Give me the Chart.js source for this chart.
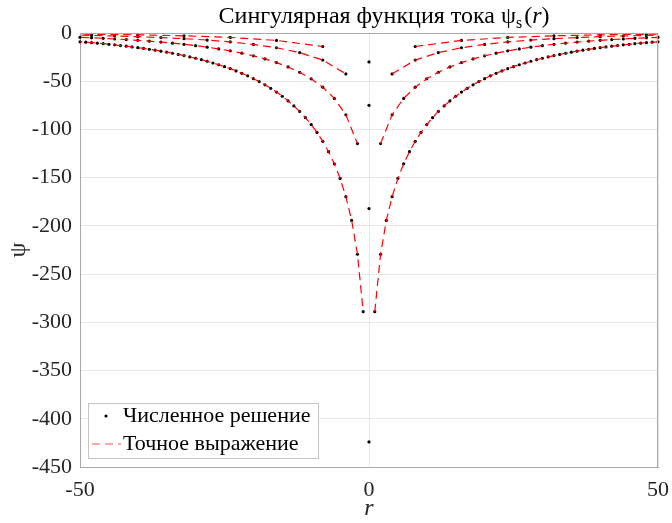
<!DOCTYPE html>
<html><head><meta charset="utf-8">
<script src="https://cdn.jsdelivr.net/npm/chart.js@4.4.1/dist/chart.umd.min.js"></script>
<style>html,body{margin:0;padding:0;background:#fff}#wrap{width:672px;height:523px;position:relative}</style>
</head><body><div id="wrap"><canvas id="c" width="672" height="523"></canvas></div>
<script>
// ---------- data ----------
// grid h = 1
const rH1 = [-52,-51,-50,-49,-48,-47,-46,-45,-44,-43,-42,-41,-40,-39,-38,-37,-36,-35,-34,-33,-32,-31,-30,-29,-28,-27,-26,-25,-24,-23,-22,-21,-20,-19,-18,-17,-16,-15,-14,-13,-12,-11,-10,-9,-8,-7,-6,-5,-4,-3,-2,-1,
  1,2,3,4,5,6,7,8,9,10,11,12,13,14,15,16,17,18,19,20,21,22,23,24,25,26,27,28,29,30,31,32,33,34,35,36,37,38,39,40,41,42,43,44,45,46,47,48,49,50,51,52];
const psiH1 = [-8.2,-8.6,-9.1,-9.5,-10.0,-10.5,-11.1,-11.7,-12.3,-13.0,-13.7,-14.4,-15.2,-16.0,-16.9,-17.8,-18.8,-19.9,-21.0,-22.2,-23.4,-24.8,-26.2,-27.7,-29.3,-31.1,-32.9,-34.9,-37.0,-39.3,-41.8,-44.4,-47.4,-50.4,-53.7,-57.4,-61.3,-65.6,-70.4,-75.6,-81.3,-87.8,-94.9,-103.1,-112.3,-123.1,-135.6,-150.8,-169.7,-194.3,-229.4,-289.0,
  -289.0,-229.4,-194.3,-169.7,-150.8,-135.6,-123.1,-112.3,-103.1,-94.9,-87.8,-81.3,-75.6,-70.4,-65.6,-61.3,-57.4,-53.7,-50.4,-47.4,-44.4,-41.8,-39.3,-37.0,-34.9,-32.9,-31.1,-29.3,-27.7,-26.2,-24.8,-23.4,-22.2,-21.0,-19.9,-18.8,-17.8,-16.9,-16.0,-15.2,-14.4,-13.7,-13.0,-12.3,-11.7,-11.1,-10.5,-10.0,-9.5,-9.1,-8.6,-8.2];
// grid h = 2
const rH2 = [-52,-50,-48,-46,-44,-42,-40,-38,-36,-34,-32,-30,-28,-26,-24,-22,-20,-18,-16,-14,-12,-10,-8,-6,-4,-2,
  2,4,6,8,10,12,14,16,18,20,22,24,26,28,30,32,34,36,38,40,42,44,46,48,50,52];
const psiH2 = [-4.1,-4.5,-5.0,-5.5,-6.2,-6.8,-7.6,-8.5,-9.4,-10.5,-11.7,-13.1,-14.7,-16.5,-18.5,-20.9,-23.7,-26.9,-30.7,-35.2,-40.7,-47.5,-56.2,-67.8,-84.8,-114.7,
  -114.7,-84.8,-67.8,-56.2,-47.5,-40.7,-35.2,-30.7,-26.9,-23.7,-20.9,-18.5,-16.5,-14.7,-13.1,-11.7,-10.5,-9.4,-8.5,-7.6,-6.8,-6.2,-5.5,-5.0,-4.5,-4.1];
// grid h = 4
const rH4 = [-52,-48,-44,-40,-36,-32,-28,-24,-20,-16,-12,-8,-4,4,8,12,16,20,24,28,32,36,40,44,48,52];
const psiH4 = [-2.0,-2.5,-3.1,-3.8,-4.7,-5.9,-7.3,-9.3,-11.8,-15.3,-20.3,-28.1,-42.4,
  -42.4,-28.1,-20.3,-15.3,-11.8,-9.3,-7.3,-5.9,-4.7,-3.8,-3.1,-2.5,-2.0];
// grid h = 8
const rH8 = [-56,-48,-40,-32,-24,-16,-8,8,16,24,32,40,48,56];
const psiH8 = [-0.8,-1.3,-1.9,-2.9,-4.6,-7.7,-14.0,-14.0,-7.7,-4.6,-2.9,-1.9,-1.3,-0.8];
// numerical values at r = 0 for h = 1, 2, 4, 8
const rCenter = [0, 0, 0, 0];
const psiCenter = [-424, -182, -75, -30];

const xTicks = [-50, 0, 50];
const yTicks = [0, -50, -100, -150, -200, -250, -300, -350, -400, -450];
const legendLabels = ['Численное решение', 'Точное выражение'];
const titleMain = 'Сингулярная функция тока ψ';
const titleSub = 's';
const xLabel = 'r';
const yLabel = 'ψ';

// ---------- build datasets ----------
const grids = [[rH1, psiH1], [rH2, psiH2], [rH4, psiH4], [rH8, psiH8]];
function exactLine(rs, ps) {
  const out = [];
  for (let i = 0; i < rs.length; i++) {
    if (i > 0 && rs[i - 1] < 0 && rs[i] > 0) out.push({x: 0, y: null});
    out.push({x: rs[i], y: ps[i]});
  }
  return out;
}
const numPts = [];
grids.forEach(([rs, ps]) => rs.forEach((r, i) => { if (Math.abs(r) <= 50) numPts.push({x: r, y: ps[i]}); }));
rCenter.forEach((r, i) => numPts.push({x: r, y: psiCenter[i]}));

const SERIF = '"Liberation Serif", "DejaVu Serif", serif';
const datasets = [{
  label: legendLabels[0], type: 'scatter', data: numPts, showLine: false,
  pointRadius: 1.6, pointBackgroundColor: '#000', pointBorderWidth: 0, borderColor: '#000',
  order: 2, clip: 4
}];
grids.forEach(([rs, ps], k) => datasets.push({
  label: k === 0 ? legendLabels[1] : '', type: 'line', data: exactLine(rs, ps),
  borderColor: '#ff0000', borderWidth: 1.2, borderDash: [8, 5], pointRadius: 0,
  spanGaps: false, tension: 0, order: 1, clip: 0, fill: false
}));

const overlay = {
  id: 'overlay',
  afterDraw(chart) {
    const ctx = chart.ctx, a = chart.chartArea;
    ctx.save();
    // box (top/right)
    ctx.strokeStyle = '#a8a8a8'; ctx.lineWidth = 1;
    ctx.beginPath();
    ctx.moveTo(a.left, a.top + 0.5); ctx.lineTo(a.right, a.top + 0.5);
    ctx.moveTo(a.right - 0.5, a.top); ctx.lineTo(a.right - 0.5, a.bottom);
    ctx.stroke();
    // legend
    const lx = 88, ly = 403, lw = 230, lh = 55;
    ctx.fillStyle = '#fff'; ctx.fillRect(lx, ly, lw, lh);
    ctx.strokeStyle = '#c4c4c4'; ctx.strokeRect(lx + 0.5, ly + 0.5, lw, lh);
    ctx.fillStyle = '#000';
    ctx.beginPath(); ctx.arc(106, 416, 1.6, 0, Math.PI * 2); ctx.fill();
    ctx.strokeStyle = '#ff5050'; ctx.lineWidth = 1.2; ctx.setLineDash([8, 5]);
    ctx.beginPath(); ctx.moveTo(92, 444); ctx.lineTo(121, 444); ctx.stroke();
    ctx.setLineDash([]);
    ctx.font = '22px ' + SERIF; ctx.fillStyle = '#000'; ctx.textBaseline = 'middle'; ctx.textAlign = 'left';
    ctx.fillText(legendLabels[0], 123, 416);
    ctx.fillText(legendLabels[1], 123, 444);
    // title
    const fMain = '24px ' + SERIF, fSub = '16px ' + SERIF, fIt = 'italic 24px ' + SERIF;
    ctx.textBaseline = 'alphabetic';
    ctx.font = fMain; const w1 = ctx.measureText(titleMain).width; const wp = ctx.measureText('(').width, wq = ctx.measureText(')').width;
    ctx.font = fSub; const w2 = ctx.measureText(titleSub).width;
    ctx.font = fIt; const w3 = ctx.measureText(xLabel).width;
    const total = w1 + w2 + 2 + wp + w3 + wq;
    let x = 384 - total / 2; const base = 23;
    ctx.fillStyle = '#000';
    ctx.font = fMain; ctx.fillText(titleMain, x, base); x += w1;
    ctx.font = fSub; ctx.fillText(titleSub, x, base + 5); x += w2 + 2;
    ctx.font = fMain; ctx.fillText('(', x, base); x += wp;
    ctx.font = fIt; ctx.fillText(xLabel, x, base); x += w3;
    ctx.font = fMain; ctx.fillText(')', x, base);
    // axis labels
    ctx.fillStyle = '#262626';
    ctx.font = 'italic 24px ' + SERIF; ctx.textAlign = 'center'; ctx.textBaseline = 'middle';
    ctx.fillText(xLabel, (a.left + a.right) / 2, 509);
    ctx.save(); ctx.translate(19, (a.top + a.bottom) / 2); ctx.rotate(-Math.PI / 2);
    ctx.font = '24px ' + SERIF; ctx.fillText(yLabel, 0, 0); ctx.restore();
    ctx.restore();
  }
};

new Chart(document.getElementById('c'), {
  type: 'scatter',
  data: {datasets},
  options: {
    responsive: false, animation: false, devicePixelRatio: 1,
    layout: {padding: {top: 33, right: 14, left: 0, bottom: 0}},
    plugins: {legend: {display: false}, title: {display: false}, tooltip: {enabled: false}},
    scales: {
      x: {
        type: 'linear', min: -50, max: 50,
        afterBuildTicks: s => { s.ticks = xTicks.map(v => ({value: v})); },
        afterFit: s => { s.height = 56; s.paddingLeft = 0; s.paddingRight = 0; },
        grid: {color: '#e6e6e6', drawTicks: false},
        border: {display: true, color: '#a8a8a8'},
        ticks: {font: {family: SERIF, size: 22}, color: '#262626', padding: 10, maxRotation: 0}
      },
      y: {
        type: 'linear', min: -450, max: 0,
        afterBuildTicks: s => { s.ticks = yTicks.map(v => ({value: v})); },
        afterFit: s => { s.width = 80; s.paddingTop = 0; s.paddingBottom = 0; },
        grid: {color: '#e6e6e6', drawTicks: false},
        border: {display: true, color: '#a8a8a8'},
        ticks: {font: {family: SERIF, size: 22}, color: '#262626', padding: 8}
      }
    }
  },
  plugins: [overlay]
});
</script></body></html>
